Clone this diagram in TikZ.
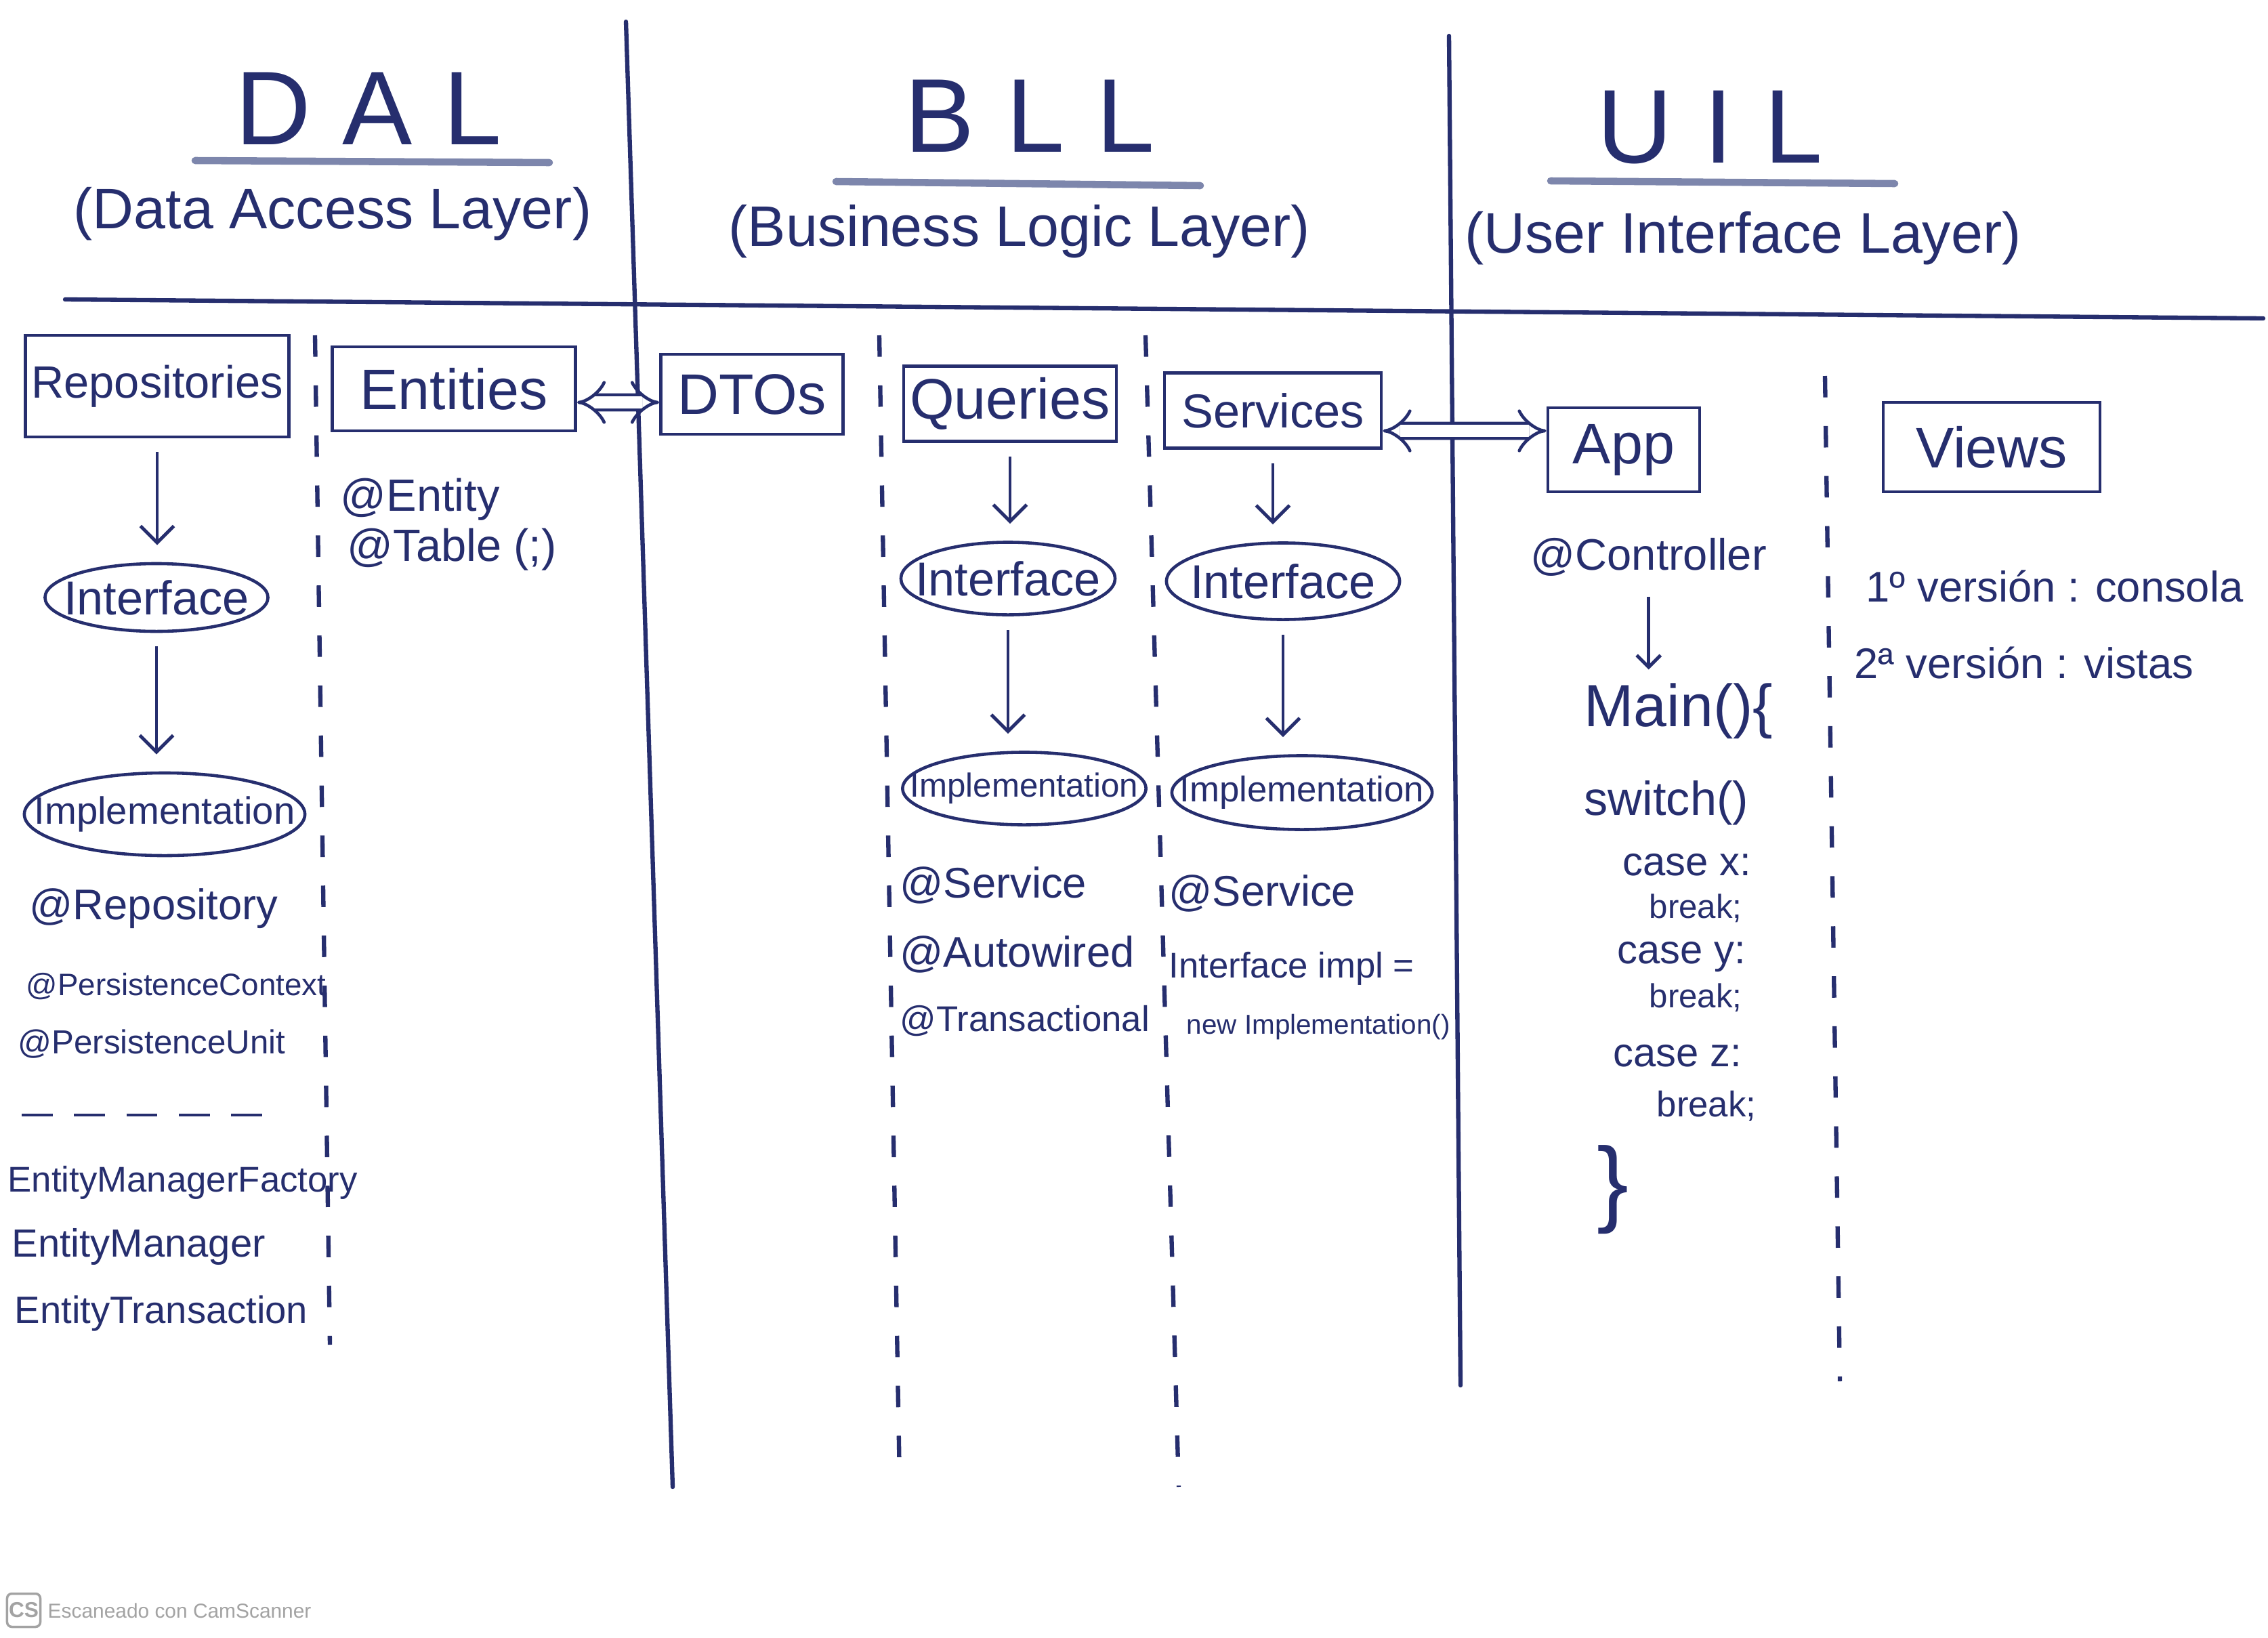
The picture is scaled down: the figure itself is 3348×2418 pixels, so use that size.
\documentclass[tikz,border=0pt]{standalone}
\usepackage{fontspec}
\setmainfont{Liberation Sans}
\usepackage{tikz}
\usetikzlibrary{positioning,calc,shapes.geometric,arrows.meta}
\definecolor{InkBlue}{HTML}{262E6E}
\definecolor{PencilBlue}{HTML}{7D86AC}
\definecolor{ScanGray}{HTML}{A3A3A3}

\tikzset{
  layertitle/.style={text=InkBlue, inner sep=0pt, font=\fontsize{44}{44}\selectfont},
  layersub/.style={text=InkBlue, inner sep=0pt, font=\fontsize{24}{24}\selectfont},
  layerbox/.style={draw=InkBlue, line width=1.3pt, text=InkBlue, inner sep=0pt, font=\fontsize{24}{24}\selectfont},
  oval/.style={ellipse, draw=InkBlue, line width=1.3pt, text=InkBlue, inner sep=-1cm, font=\fontsize{#1}{#1}\selectfont},
  oval/.default=18,
  note/.style={anchor=west, inner sep=0pt, text=InkBlue, font=\fontsize{#1}{#1}\selectfont},
  note/.default=18,
  flow/.style={draw=InkBlue, line width=1.4pt, -{Straight Barb[length=7pt,width=14pt]}, shorten <=0.2cm, shorten >=0.25cm},
  swap/.style={draw=InkBlue, double=white, double distance=5pt, line width=1.3pt, {Implies}-{Implies}},
  divider/.style={draw=InkBlue, line width=1.8pt, line cap=round},
  subdivider/.style={draw=InkBlue, line width=1.8pt, dash pattern=on 9pt off 12pt},
  pencil/.style={draw=PencilBlue, line width=3pt, line cap=round},
}
\newcommand{\gap}{\hspace{0.3em}}

\begin{document}
\begin{tikzpicture}[x=0.01cm, y=-0.01cm]
  \useasboundingbox (0,0) rectangle (3348,2418);
  \fill[white] (0,0) rectangle (3348,2418);

  % Layer titles
  \node[layertitle] (daltitle) at (544,160) {D\gap A\gap L};
  \node[layertitle] (blltitle) at (1520,171) {B\gap L\gap L};
  \node[layertitle] (uiltitle) at (2524,188) {U\gap I\gap L};
  \draw[pencil] (288,237) -- (811,240);
  \draw[pencil] (1234,268) -- (1772,274);
  \draw[pencil] (2289,267) -- (2797,271);
  \node[layersub] (dalsub) at (491,316) {(Data Access Layer)};
  \node[layersub] (bllsub) at (1505,342) {(Business Logic Layer)};
  \node[layersub] (uilsub) at (2573,352) {(User Interface Layer)};

  % Column lines
  \draw[divider] (96,442) -- (3341,470);
  \draw[divider] (924,32) -- (993,2195);
  \draw[divider] (2139,53) -- (2156,2045);
  \draw[subdivider] (465,495) -- (487,1985);
  \draw[subdivider] (1298,495) -- (1328,2188);
  \draw[subdivider] (1691,495) -- (1740,2195);
  \draw[subdivider] (2694,555) -- (2716,2039);

  % DAL
  \node[layerbox, minimum width=3.89cm, minimum height=1.5cm, font=\fontsize{19}{19}\selectfont] (repo) at (232,570) {Repositories};
  \node[oval=20, minimum width=3.29cm, minimum height=1.0cm] (dalif) at (231,882) {Interface};
  \node[oval=16, minimum width=4.14cm, minimum height=1.22cm] (dalimpl) at (243,1202) {Implementation};
  \draw[flow] (repo.south) -- (repo.south |- dalif.north);
  \draw[flow] (dalif.south) -- (dalif.south |- dalimpl.north);
  \node[note=18] (reprepo) at (43,1341) {@Repository};
  \node[note=13] (repctx) at (38,1456) {@PersistenceContext};
  \node[note=14] (repunit) at (26,1541) {@PersistenceUnit};
  \draw[InkBlue, line width=1pt, dash pattern=on 13pt off 9pt] (32,1646) -- (406,1646);
  \node[note=15] (emf) at (11,1746) {EntityManagerFactory};
  \node[note=16.5] (em) at (17,1840) {EntityManager};
  \node[note=16] (et) at (21,1939) {EntityTransaction};

  \node[layerbox, minimum width=3.59cm, minimum height=1.24cm] (ent) at (670,574) {Entities};
  \node[note=19] (entann) at (502,737) {@Entity};
  \node[note=19] (tabann) at (512,811) {@Table (;)};

  % BLL
  \node[layerbox, minimum width=2.69cm, minimum height=1.18cm] (dto) at (1110,582) {DTOs};
  \draw[swap] ([yshift=-0.2cm]ent.east) -- ([yshift=-0.12cm]dto.west);

  \node[layerbox, minimum width=3.14cm, minimum height=1.11cm] (qry) at (1491,596) {Queries};
  \node[oval=20, minimum width=3.16cm, minimum height=1.07cm] (qif) at (1488,854) {Interface};
  \node[oval=14, minimum width=3.59cm, minimum height=1.07cm] (qimpl) at (1512,1164) {Implementation};
  \draw[flow] (qry.south) -- (qry.south |- qif.north);
  \draw[flow] (qif.south) -- (qif.south |- qimpl.north);
  \node[note=18] (qsrv) at (1328,1307) {@Service};
  \node[note=18] (qwire) at (1328,1409) {@Autowired};
  \node[note=15] (qtx) at (1328,1507) {@Transactional};

  \node[layerbox, minimum width=3.2cm, minimum height=1.11cm, font=\fontsize{20}{20}\selectfont] (srv) at (1879,606) {Services};
  \node[oval=20, minimum width=3.44cm, minimum height=1.13cm] (sif) at (1894,858) {Interface};
  \node[oval=15, minimum width=3.84cm, minimum height=1.09cm] (simpl) at (1922,1170) {Implementation};
  \draw[flow] (srv.south) -- (srv.south |- sif.north);
  \draw[flow] (sif.south) -- (sif.south |- simpl.north);
  \node[note=18] (ssrv) at (1725,1319) {@Service};
  \node[note=15] (simpldecl) at (1725,1430) {Interface impl =};
  \node[note=11.5] (snew) at (1751,1516) {new Implementation()};

  % UIL
  \node[layerbox, minimum width=2.24cm, minimum height=1.24cm] (app) at (2397,664) {App};
  \draw[swap] ([yshift=-0.3cm]srv.east) -- ([yshift=0.28cm]app.west);
  \node[note=18.5] (ctrl) at (2259,822) {@Controller};
  \node[note=25] (main) at (2338,1050) {Main()\{};
  \draw[flow, -{Straight Barb[length=5pt,width=10pt]}, shorten <=0.3cm, shorten >=0.2cm] (ctrl.south) -- (ctrl.south |- main.north);
  \node[note=20] (sw) at (2338,1185) {switch()};
  \foreach \cx/\cy/\ctext/\csize in {2395/1277/case x:/17, 2434/1341/break;/14, 2387/1413/case y:/17,
      2434/1473/break;/14, 2381/1559/case z:/17, 2445/1633/break;/15} {
    \node[note=\csize] at (\cx,\cy) {\ctext};
  }
  \node[text=InkBlue, inner sep=0pt, font=\fontsize{40}{40}\selectfont] (mainend) at (2381,1756) {\}};

  \node[layerbox, minimum width=3.2cm, minimum height=1.32cm] (views) at (2940,660) {Views};
  \node[note=18] (ver1) at (2754,865) {1º versión : consola};
  \node[note=18] (ver2) at (2737,978) {2ª versión : vistas};

  % Scanner footer
  \node[draw=ScanGray, line width=1pt, rounded corners=2pt, minimum size=0.49cm, inner sep=0pt,
        text=ScanGray, font=\fontsize{9}{9}\selectfont\bfseries] (cslogo) at (35,2377) {CS};
  \node[anchor=west, inner sep=0pt, text=ScanGray, font=\fontsize{8.5}{8.5}\selectfont] (csnote) at (70,2378) {Escaneado con CamScanner};
\end{tikzpicture}
\end{document}
